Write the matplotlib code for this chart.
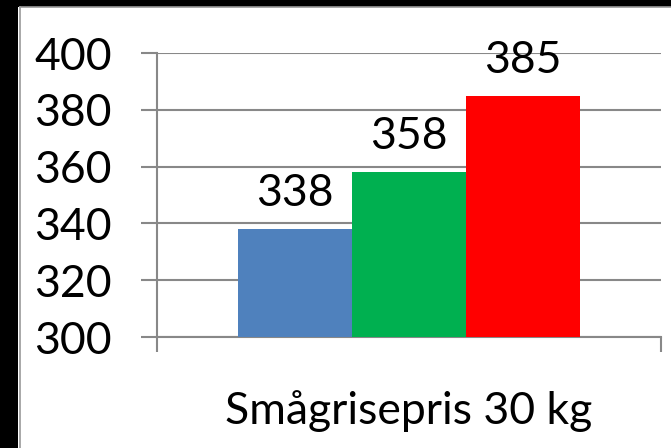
import matplotlib
matplotlib.use("Agg")
import matplotlib.pyplot as plt
from matplotlib.patches import Rectangle
from matplotlib.lines import Line2D

categories = ["Smågrisepris 30 kg"]
series_values = [338, 358, 385]
series_colors = ["#4F81BD", "#00B050", "#FF0000"]
yticks = [300, 320, 340, 360, 380, 400]

plt.rcParams['font.family'] = ['Lato', 'DejaVu Sans']
W, H = 671, 448
fig = plt.figure(figsize=(W/100, H/100), dpi=100)
fig.patch.set_facecolor('white')
fig.patches.append(Rectangle((0, 0), 18/W, 1, transform=fig.transFigure,
                             facecolor='black', edgecolor='none', zorder=-10))
fig.patches.append(Rectangle((0, 1 - 7/H), 1, 7/H, transform=fig.transFigure,
                             facecolor='black', edgecolor='none', zorder=-10))
fig.lines.append(Line2D([19.5/W, 19.5/W], [0, 1 - 7.5/H], transform=fig.transFigure, color='#9a9a9a', lw=1.2, zorder=-9))
fig.lines.append(Line2D([19.5/W, 1], [1 - 7.5/H, 1 - 7.5/H], transform=fig.transFigure, color='#9a9a9a', lw=1.2, zorder=-9))

gray = '#888888'
ax = fig.add_axes([157/W, 1 - 337/H, (661 - 157)/W, (337 - 53)/H])
ax.set_facecolor('none')
bw = 0.226
n = len(series_values)
for i, (v, c) in enumerate(zip(series_values, series_colors)):
    x = (i - (n - 1) / 2) * bw
    ax.bar(x, v - 300, bottom=300, width=bw, color=c, zorder=3)
    ax.annotate(str(v), (x, v), xytext=(0, 16.5), textcoords='offset points',
                ha='center', va='baseline', fontsize=32, zorder=4)

ax.set_xlim(-0.5, 0.5)
ax.set_ylim(300, 400)
ax.set_yticks(yticks)
ax.set_yticklabels([str(t) for t in yticks], fontsize=32)
ax.yaxis.grid(True, color=gray, lw=1.5, zorder=0)
ax.tick_params(axis='y', length=11.5, width=1.5, color=gray, pad=21)
ax.set_xticks([0])
ax.set_xticklabels(categories, fontsize=32)
ax.set_xticks([-0.5, 0.5], minor=True)
ax.tick_params(axis='x', which='major', length=0, pad=38)
ax.tick_params(axis='x', which='minor', length=11, width=1.5, color=gray)
for s in ['top', 'right']:
    ax.spines[s].set_visible(False)
for s in ['left', 'bottom']:
    ax.spines[s].set_color(gray)
    ax.spines[s].set_linewidth(1.5)
ax.spines['left'].set_zorder(5)

fig.savefig('out.png', dpi=100, facecolor=fig.get_facecolor())
